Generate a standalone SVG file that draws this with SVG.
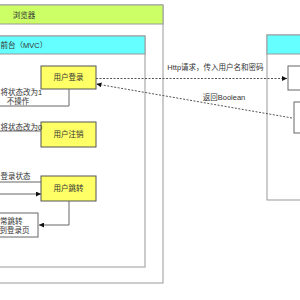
<svg xmlns="http://www.w3.org/2000/svg" width="300" height="300" viewBox="0 0 300 300">
<defs>
<style>
text{font-family:"Liberation Sans","Noto Sans CJK SC",sans-serif;font-size:7.5px;fill:#333}
.c{text-anchor:middle}
.e{text-anchor:end}
.box{fill:#fff;stroke:#999;stroke-width:1}
.node{fill:#ffff66;stroke:#555;stroke-width:1}
.wnode{fill:#fff;stroke:#666;stroke-width:1}
.ln{fill:none;stroke:#666;stroke-width:1}
.dash{fill:none;stroke:#555;stroke-width:1;stroke-dasharray:2 1.5}
</style>
<marker id="ar" viewBox="0 0 10 10" refX="10" refY="5" markerWidth="5" markerHeight="5" orient="auto" markerUnits="userSpaceOnUse">
<path d="M0,0 L10,5 L0,10 Z" fill="#111"/>
</marker>
</defs>
<rect width="300" height="300" fill="#fff"/>
<g id="browser">
<rect class="box" x="-5" y="5" width="168" height="278"/>
<rect x="-5" y="5" width="168" height="19" fill="#ccff66" stroke="#999"/>
<text class="c" x="24" y="17.5">浏览器</text>
</g>
<g id="frontend">
<rect class="box" x="-5" y="36" width="150" height="231"/>
<rect x="-5" y="36" width="150" height="18" fill="#66ffff" stroke="#999"/>
<text x="0.5" y="48">前台（MVC）</text>
</g>
<g id="backend">
<rect class="box" x="267" y="35" width="40" height="165"/>
<rect x="267" y="35" width="40" height="19" fill="#66ffff" stroke="#999"/>
</g>
<g id="login">
<rect class="node" x="41" y="66" width="55" height="23"/>
<text class="c" x="68.5" y="80">用户登录</text>
</g>
<g id="logout">
<rect class="node" x="41" y="122" width="55" height="25"/>
<text class="c" x="68.5" y="137">用户注销</text>
</g>
<g id="jump">
<rect class="node" x="41" y="176" width="55" height="25"/>
<text class="c" x="68.5" y="191">用户跳转</text>
</g>
<g id="result">
<rect class="wnode" x="-5" y="213" width="43" height="24"/>
<text class="e" x="22.5" y="223.5">常跳转</text>
<text class="e" x="29.5" y="232.5">到登录页</text>
</g>
<g id="verify">
<rect class="wnode" x="288" y="66" width="20" height="24"/>
</g>
<g id="modify">
<rect class="wnode" x="294" y="102" width="20" height="31"/>
</g>
<g id="connectors">
<polyline class="ln" points="69,89 69,106 -5,106"/>
<text x="0.5" y="95">将状态改为1</text>
<text class="c" x="18" y="104">不操作</text>
<line class="ln" x1="41" y1="131" x2="-5" y2="131"/>
<text x="0.5" y="129.5">将状态改为0</text>
<line class="ln" x1="41" y1="182" x2="-5" y2="182"/>
<text x="0.5" y="178.5">登录状态</text>
<line class="ln" x1="-5" y1="194" x2="41" y2="194" marker-end="url(#ar)"/>
<polyline class="ln" points="69,201 69,225 39,225" marker-end="url(#ar)"/>
<line class="dash" x1="96" y1="78.5" x2="287" y2="78.5" marker-end="url(#ar)"/>
<text class="c" x="215.5" y="69.5">Http请求，传入用户名和密码</text>
<line class="dash" x1="292" y1="118" x2="96.5" y2="84" marker-end="url(#ar)"/>
<text class="c" x="224" y="99.5">返回Boolean</text>
</g>
</svg>
